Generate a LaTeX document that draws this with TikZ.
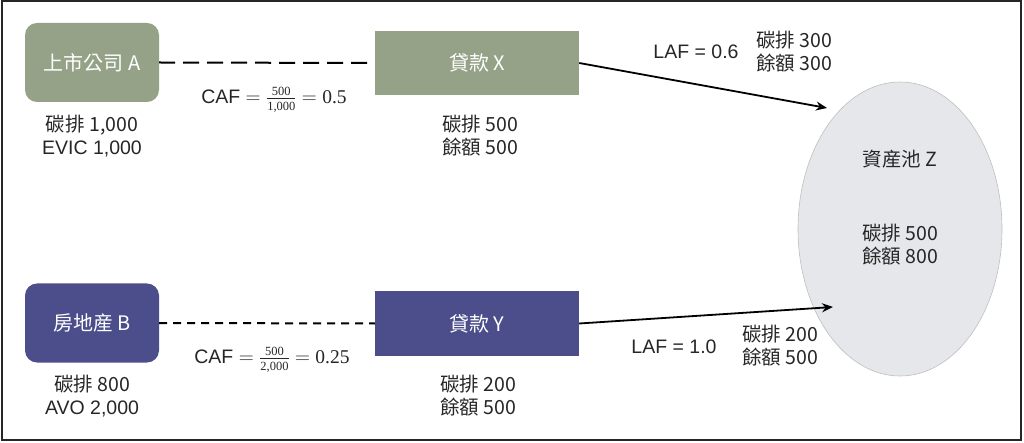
\documentclass[tikz,border=0pt]{standalone}
\usepackage{fontspec}
\setmainfont{Liberation Sans}
\newfontfamily\cjk{Noto Sans CJK TC}
\newfontfamily\ser{Liberation Serif}
\usetikzlibrary{arrows.meta,shapes.geometric}
\definecolor{grn}{HTML}{95A288}
\definecolor{blu}{HTML}{4B4E8A}
\definecolor{pool}{HTML}{E6E7EB}
\definecolor{txt}{HTML}{262626}
\newcommand{\fr}[2]{\ensuremath{\frac{\mbox{\ser\fontsize{12.5}{13}\selectfont #1}}{\mbox{\ser\fontsize{12.5}{13}\selectfont #2}}}}
\begin{document}
\begin{tikzpicture}[x=1pt,y=-1pt,
  lbl/.style={font=\fontsize{19.5}{23}\selectfont, text=txt, align=center, inner sep=0pt},
  inbox/.style={font=\fontsize{20}{23}\selectfont, text=white, align=center},
  company/.style={inbox, rounded corners=12pt, minimum width=134pt, minimum height=79pt},
  loan/.style={inbox, minimum width=204pt, minimum height=64pt},
  conn/.style={line width=1.8pt, -{Stealth[length=11pt,width=9pt]}}
]
\useasboundingbox (0,0) rectangle (1024,443);
\draw[line width=2pt, black!85] (1.5,1.5) rectangle (1021,440);

\node[company, fill=grn] (A) at (92,62.5) {\cjk 上市公司 A};
\node[company, fill=blu] (B) at (92,323) {\cjk 房地産 B};
\node[loan, fill=grn] (X) at (477,63) {\cjk 貸款 X};
\node[loan, fill=blu] (Y) at (477,323.5) {\cjk 貸款 Y};
\node[ellipse, fill=pool, draw=black!25, line width=0.6pt, minimum width=204pt, minimum height=294pt, inner sep=0pt] (Z) at (900,229) {};
\node[lbl] (Zt) at (900,159) {\cjk 資産池 Z};
\node[lbl] (Zv) at (900,244.5) {\cjk 碳排 500\\\cjk 餘額 800};

\draw[line width=2pt, dash pattern=on 16pt off 8pt] (A.east) -- (X.west);
\draw[line width=2pt, dash pattern=on 8pt off 6pt] (B.east) -- (Y.west);
\coordinate (zx) at (827,108);
\coordinate (zy) at (833,307);
\draw[conn] (X.east) -- (zx);
\draw[conn] (Y.east) -- (zy);

\node[lbl] (Av) at (92,136.5) {\cjk 碳排 1,000\\EVIC 1,000};
\node[lbl] (Bv) at (92,396) {\cjk 碳排 800\\AVO 2,000};
\node[lbl] (caf1) at (274,100) {CAF $=$ \fr{500}{1,000} $=$ {\ser 0.5}};
\node[lbl] (caf2) at (272,360) {CAF $=$ \fr{500}{2,000} $=$ {\ser 0.25}};
\node[lbl] (Xv) at (480,135.5) {\cjk 碳排 500\\\cjk 餘額 500};
\node[lbl] (Yv) at (478,396) {\cjk 碳排 200\\\cjk 餘額 500};
\node[lbl] (laf1) at (696,52) {LAF = 0.6};
\node[lbl] (laf2) at (674,347) {LAF = 1.0};
\node[lbl] (Xz) at (794,52) {\cjk 碳排 300\\\cjk 餘額 300};
\node[lbl] (Yz) at (780,345.5) {\cjk 碳排 200\\\cjk 餘額 500};
\end{tikzpicture}
\end{document}
